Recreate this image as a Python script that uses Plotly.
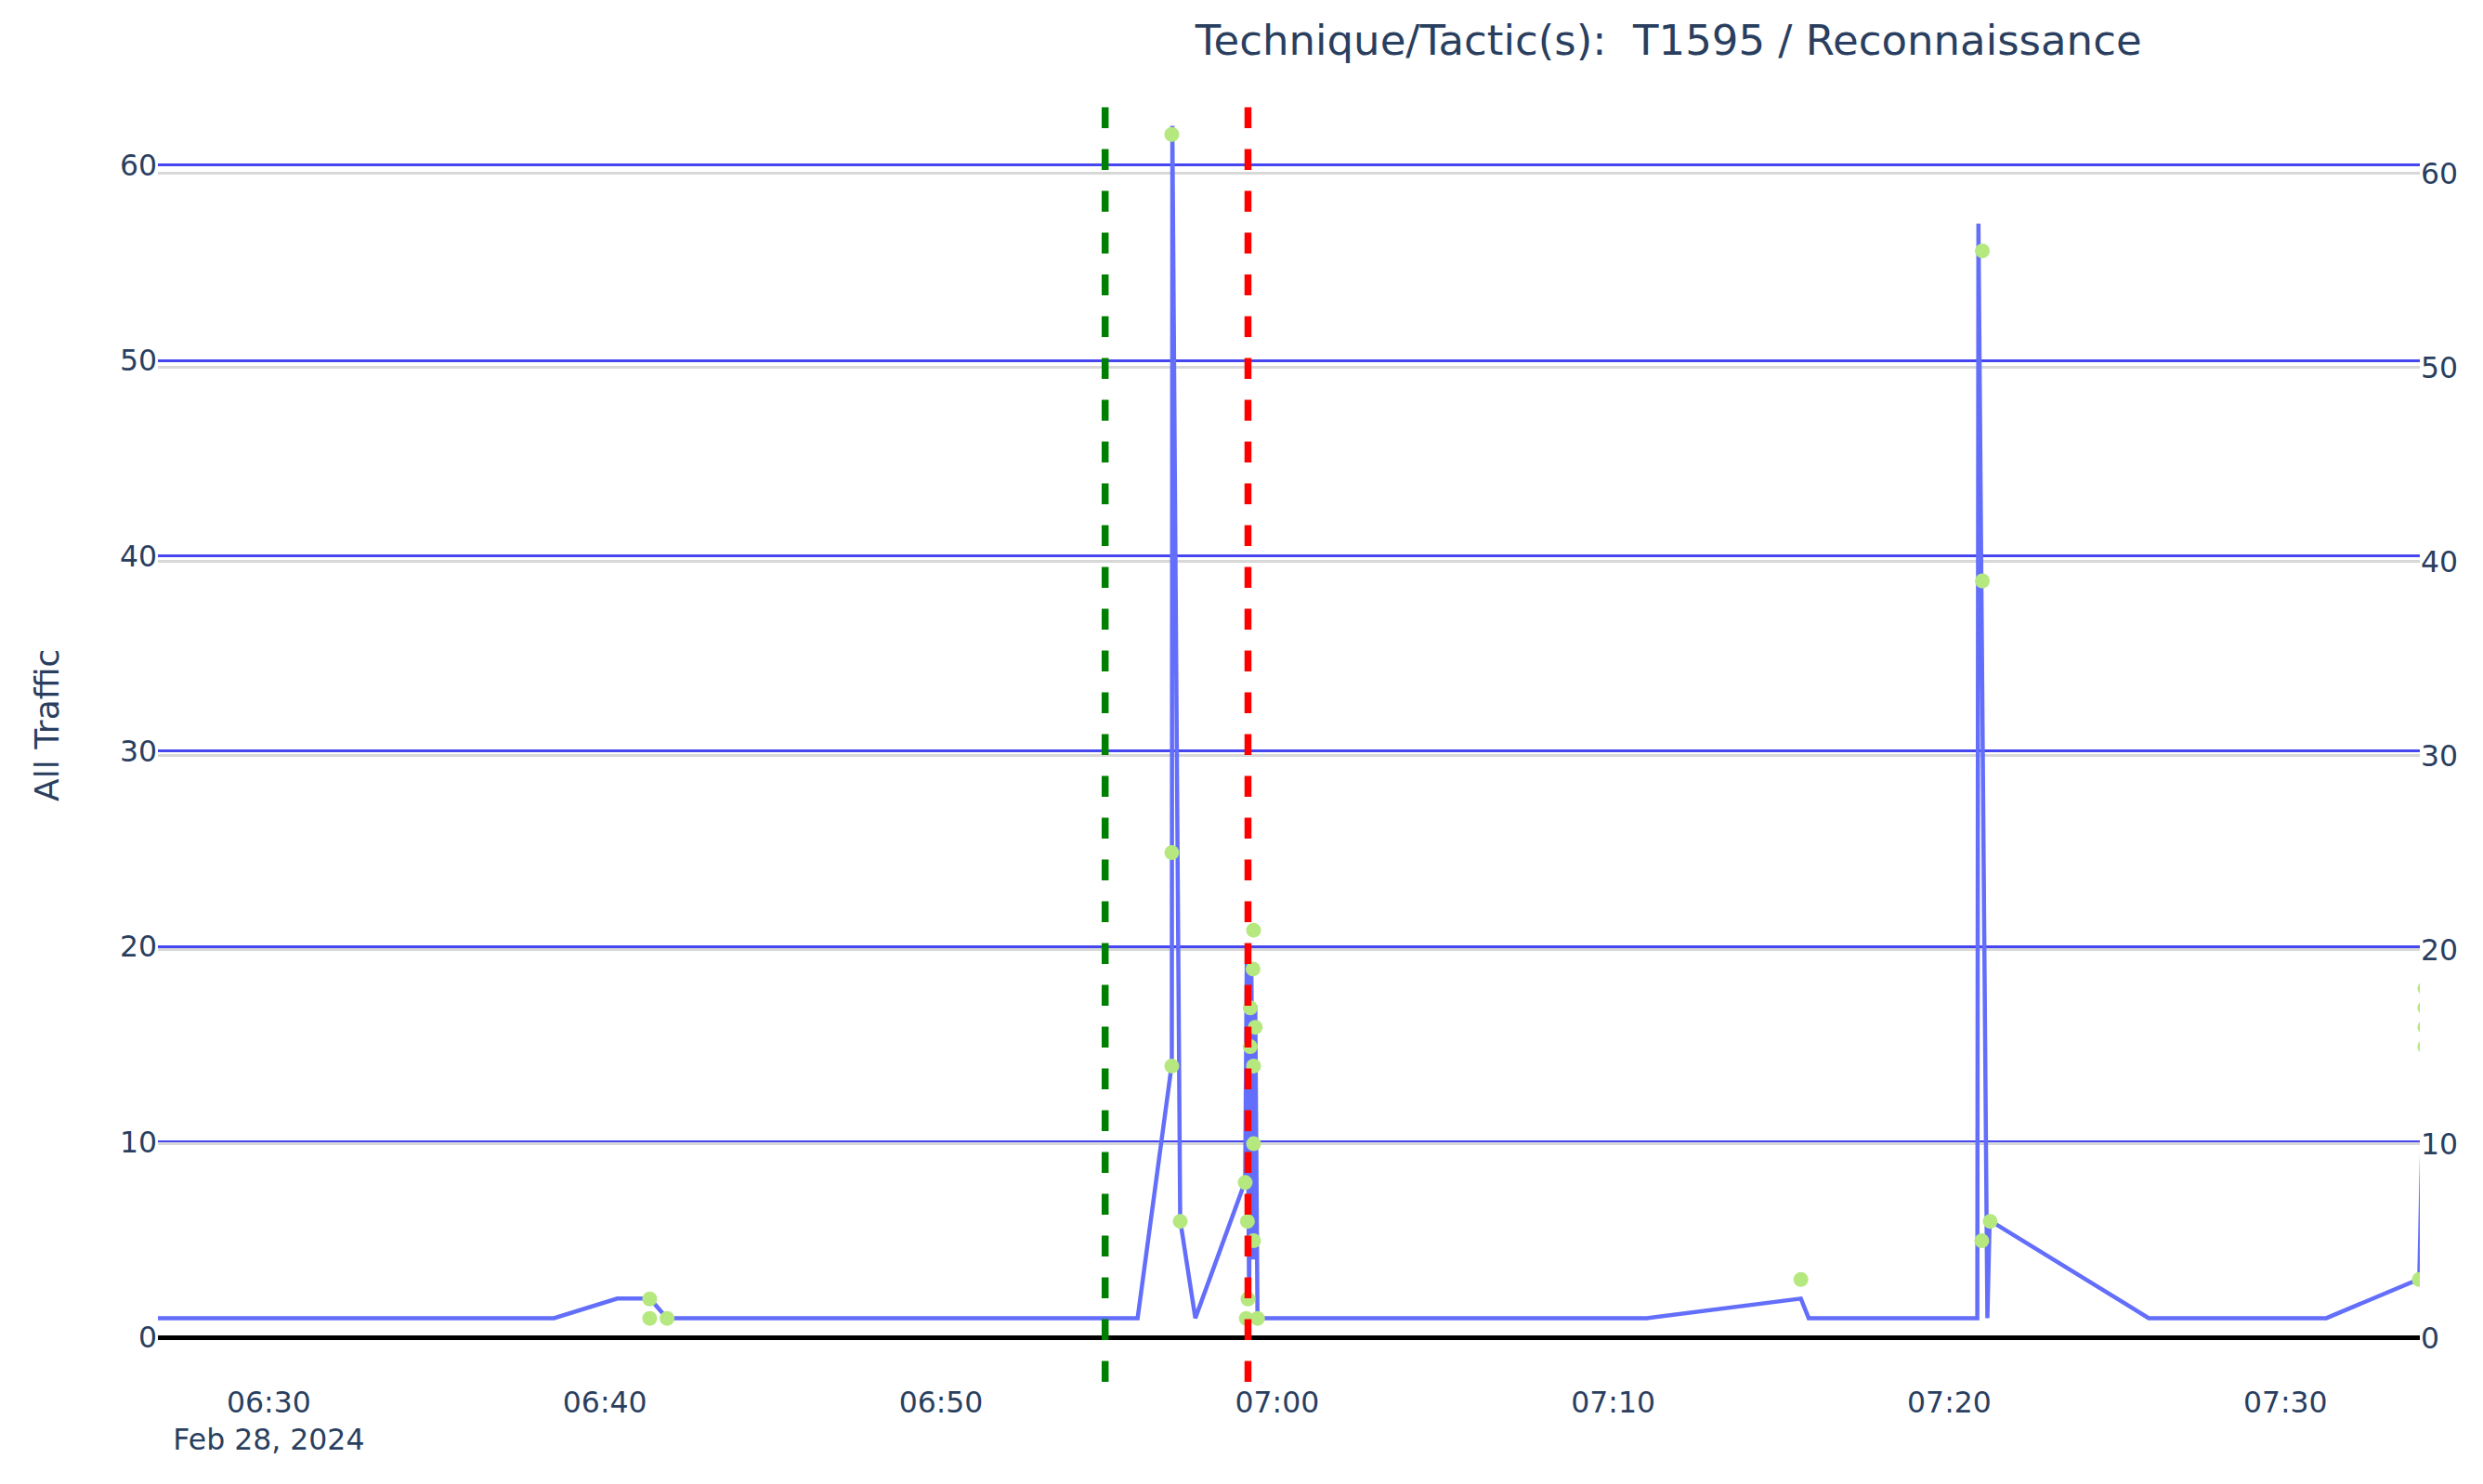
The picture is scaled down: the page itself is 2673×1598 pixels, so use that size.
import plotly.graph_objects as go

DAY = "2024-02-28 "

# Aggregate traffic line (left axis)
line_times = ["06:26:00", "06:38:29", "06:40:22", "06:41:20", "06:41:51", "06:55:51",
              "06:56:52", "06:56:53", "06:57:07", "06:57:34", "06:59:03", "06:59:06",
              "06:59:10", "06:59:14", "06:59:18", "06:59:21", "06:59:25", "07:11:00",
              "07:15:35", "07:15:49", "07:20:50", "07:20:52", "07:21:08", "07:21:12",
              "07:25:56", "07:31:13", "07:33:59", "07:34:10"]
line_values = [1, 1, 2, 2, 1, 1,
               14, 62, 6, 1, 8, 20,
               2, 19, 4, 17, 1, 1,
               2, 1, 1, 57, 1, 6,
               1, 1, 3, 18]

# Individual observations (right axis)
point_times = ["06:41:20", "06:41:20", "06:41:51", "06:56:52", "06:56:52", "06:56:52",
               "06:57:07", "06:59:03", "06:59:05", "06:59:07", "06:59:08", "06:59:12",
               "06:59:12", "06:59:17", "06:59:18", "06:59:18", "06:59:18", "06:59:18",
               "06:59:21", "06:59:25", "07:15:35", "07:20:59", "07:20:59", "07:20:58",
               "07:21:13", "07:33:59", "07:34:09", "07:34:09", "07:34:09", "07:34:09"]
point_values = [2, 1, 1, 14, 25, 62,
                6, 8, 1, 6, 2, 17,
                15, 19, 21, 14, 10, 5,
                16, 1, 3, 56, 39, 5,
                6, 3, 18, 17, 16, 15]

# Event markers
start_time = "06:54:53"
end_time = "06:59:08"

x_range = ["06:26:42", "07:34:00"]
y_ticks = [0, 10, 20, 30, 40, 50, 60]

TITLE = "Technique/Tactic(s):  T1595 / Reconnaissance"
Y_TITLE = "All Traffic"

FONT = "DejaVu Sans"
TEXT = "#2a3f5f"

fig = go.Figure()
fig.add_trace(go.Scatter(
    x=[DAY + t for t in line_times], y=line_values, mode="lines",
    line=dict(color="#636efa", width=4.5), yaxis="y", showlegend=False))
fig.add_trace(go.Scatter(
    x=[DAY + t for t in point_times], y=point_values, mode="markers",
    marker=dict(color="#B6E880", size=16), yaxis="y2", showlegend=False))

for t, c in [(start_time, "green"), (end_time, "red")]:
    fig.add_shape(type="line", xref="x", yref="paper", x0=DAY + t, x1=DAY + t,
                  y0=0, y1=1, line=dict(color=c, width=7.5, dash="dash"))

fig.add_annotation(text=Y_TITLE, xref="paper", yref="paper", x=-0.0489, y=0.509,
                   xanchor="center", yanchor="middle", textangle=-90, showarrow=False,
                   font=dict(size=36, color=TEXT, family=FONT))

fig.update_layout(
    width=2657, height=1582,
    margin=dict(l=162, r=60, t=91, b=102),
    paper_bgcolor="white", plot_bgcolor="white",
    font=dict(family=FONT, color=TEXT, size=31.5),
    title=dict(text=TITLE, xref="container", yref="container", x=0.673, y=0.978,
               xanchor="center", yanchor="middle", font=dict(size=45, color=TEXT)),
    xaxis=dict(type="date", range=[DAY + x_range[0], DAY + x_range[1]],
               showgrid=False, zeroline=False, showline=False, ticks="",
               dtick=600000, tick0=DAY + "06:30:00",
               tickfont=dict(size=31.5)),
    yaxis=dict(range=[-2.26, 63.73], tickvals=y_ticks, showgrid=True,
               gridcolor="rgb(70,70,240)", gridwidth=3,
               zeroline=True, zerolinecolor="black", zerolinewidth=5,
               tickfont=dict(size=31.5), showline=False, ticks=""),
    yaxis2=dict(range=[-2.27, 64.19], tickvals=y_ticks, overlaying="y", side="right",
                showgrid=True, gridcolor="#D8D8D8", gridwidth=2.5, zeroline=False,
                tickfont=dict(size=31.5), showline=False, ticks=""),
)

fig.write_html("out.html")
